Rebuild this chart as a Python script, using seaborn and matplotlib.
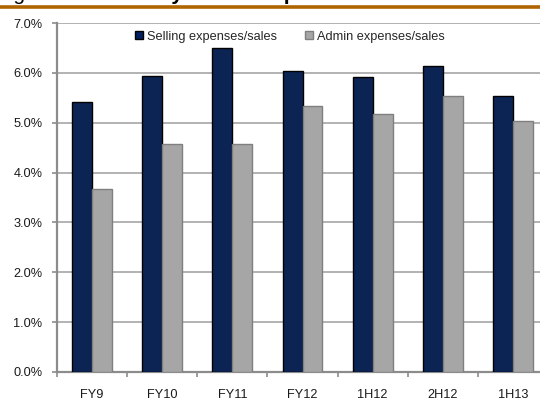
import matplotlib
matplotlib.use("Agg")
import matplotlib.pyplot as plt
from matplotlib.patches import Patch
from matplotlib.ticker import FixedLocator, FuncFormatter
import seaborn as sns
import pandas as pd

periods = ["FY9", "FY10", "FY11", "FY12", "1H12", "2H12", "1H13"]
selling_pct = [5.42, 5.93, 6.50, 6.04, 5.91, 6.14, 5.53]
admin_pct = [3.67, 4.58, 4.58, 5.34, 5.17, 5.53, 5.04]
series_names = ["Selling expenses/sales", "Admin expenses/sales"]
y_ticks = [0, 1, 2, 3, 4, 5, 6, 7]

df = pd.DataFrame({
    "period": periods * 2,
    "ratio": selling_pct + admin_pct,
    "series": [series_names[0]] * len(periods) + [series_names[1]] * len(periods),
})

sns.set_style("white")
plt.rcParams["font.family"] = ["Liberation Sans", "DejaVu Sans"]

face_colors = ["#002060", "#A6A6A6"]
edge_colors = ["#000000", "#7F7F7F"]

fig = plt.figure(figsize=(5.4, 4.05), dpi=100)
ax = fig.add_axes([57 / 540, 33 / 405, 491 / 540, 349 / 405])

sns.barplot(data=df, x="period", y="ratio", hue="series", order=periods,
            hue_order=series_names, palette=face_colors, width=0.57,
            gap=0, ax=ax, legend=False, zorder=3)

for cont, ec in zip(ax.containers, edge_colors):
    for bar in cont:
        bar.set_edgecolor(ec)
        bar.set_linewidth(1.0)

ax.set_xlim(-0.5, len(periods) - 0.5)
ax.set_ylim(0, 7)
ax.yaxis.set_major_locator(FixedLocator(y_ticks))
ax.yaxis.set_major_formatter(FuncFormatter(lambda v, _: f"{v:.1f}%"))
ax.yaxis.grid(True, color="#A6A6A6", linewidth=1.2, zorder=0)
ax.set_axisbelow(True)

# category boundaries carry the tick marks, labels sit between them
ax.set_xticks([i - 0.5 for i in range(len(periods) + 1)])
ax.set_xticklabels([])
ax.set_xticks(range(len(periods)), minor=True)
ax.set_xticklabels(periods, minor=True)
ax.tick_params(axis="x", which="major", length=3.6, width=1.2, color="#8C8C8C",
               direction="out", bottom=True)
ax.tick_params(axis="x", which="minor", length=0, pad=12, labelsize=9.2,
               labelcolor="#1A1A1A")
ax.tick_params(axis="y", length=3.6, width=1.2, color="#8C8C8C", direction="out",
               left=True, pad=7, labelsize=9.2, labelcolor="#1A1A1A")
ax.set_xlabel("")
ax.set_ylabel("")

for side in ["top", "right"]:
    ax.spines[side].set_visible(False)
for side in ["left", "bottom"]:
    ax.spines[side].set_color("#8C8C8C")
    ax.spines[side].set_linewidth(1.6)

handles = [Patch(facecolor=fc, edgecolor=ec, linewidth=1.0)
           for fc, ec in zip(face_colors, edge_colors)]
ax.legend(handles, series_names, loc="upper center", bbox_to_anchor=(0.474, 1.0),
          ncol=2, frameon=False, fontsize=9.2, handlelength=0.65, handleheight=0.65,
          handletextpad=0.3, columnspacing=2.2, borderaxespad=0.2)

# header rule and heading
fig.add_artist(plt.Line2D([0, 1], [1 - 6.7 / 405, 1 - 6.7 / 405],
                          transform=fig.transFigure, color="#AF6400", linewidth=2.6))
t1 = fig.text(-4 / 540, 1 + 0.3 / 405, "Figure 6: ", fontsize=15, va="baseline",
              ha="left", color="#000000")
fig.canvas.draw()
bb = t1.get_window_extent(renderer=fig.canvas.get_renderer())
fig.text(bb.x1 / fig.bbox.width, 1 + 0.3 / 405, "Efficiency trend in opex ratios",
         fontsize=15, fontweight="bold", va="baseline", ha="left", color="#000000")

fig.savefig("out.png", dpi=100)
